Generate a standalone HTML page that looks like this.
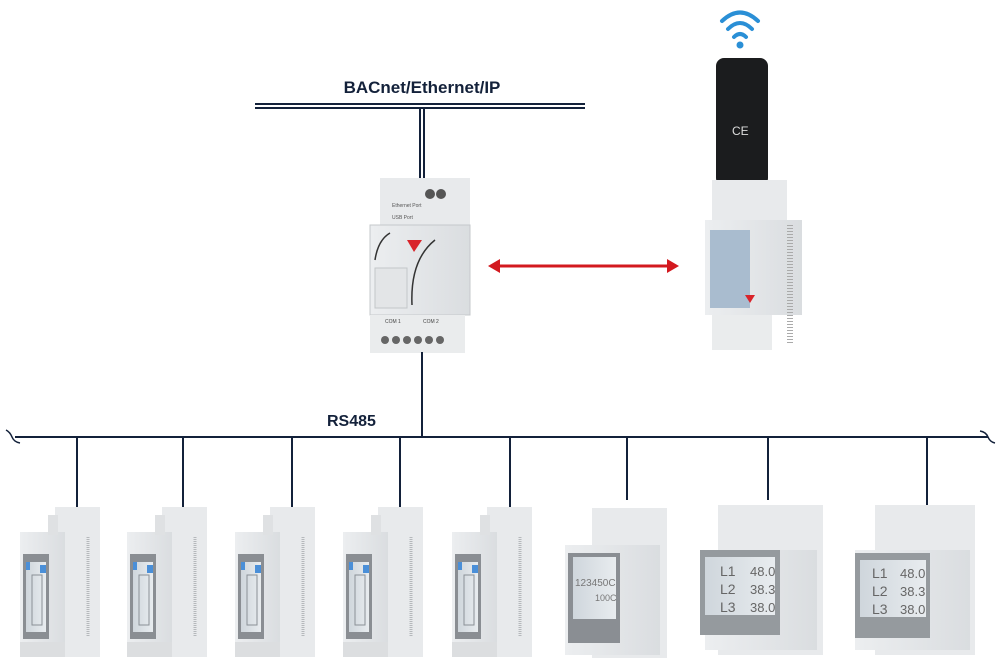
<!DOCTYPE html>
<html><head><meta charset="utf-8"><style>
html,body{margin:0;padding:0;background:#fff;}
svg{display:block;}
text{font-family:"Liberation Sans",sans-serif;}
</style></head><body>
<svg width="1000" height="662" viewBox="0 0 1000 662" xmlns="http://www.w3.org/2000/svg">
<defs>
<linearGradient id="g" x1="0" x2="1"><stop offset="0" stop-color="#eceef0"/><stop offset="1" stop-color="#dadde0"/></linearGradient>
<linearGradient id="lcd" x1="0" x2="1"><stop offset="0" stop-color="#cfd6dc"/><stop offset="1" stop-color="#e8ecef"/></linearGradient>
<g id="m1">
  <rect x="35" y="0" width="45" height="150" fill="#e8eaec"/>
  <rect x="0" y="25" width="45" height="125" fill="url(#g)"/>
  <rect x="28" y="8" width="10" height="20" fill="#dfe1e3"/>
  <rect x="3" y="47" width="26" height="85" fill="#8a8e93"/>
  <rect x="6" y="55" width="20" height="70" fill="url(#lcd)"/>
  <rect x="6" y="55" width="4" height="8" fill="#4a8fd8"/>
  <rect x="20" y="58" width="6" height="8" fill="#4a8fd8"/>
  <rect x="12" y="68" width="10" height="50" fill="none" stroke="#8a9096" stroke-width="1"/>
  <rect x="0" y="135" width="45" height="15" fill="#dcdee0"/>
  <line x1="68" y1="30" x2="68" y2="130" stroke="#b5b8bb" stroke-width="3" stroke-dasharray="1,1"/>
</g>
</defs>

<text x="422" y="93" text-anchor="middle" font-size="17" font-weight="bold" fill="#13213a">BACnet/Ethernet/IP</text>
<line x1="255" y1="104" x2="585" y2="104" stroke="#13213a" stroke-width="2"/>
<line x1="255" y1="108" x2="585" y2="108" stroke="#13213a" stroke-width="2"/>
<line x1="420" y1="108" x2="420" y2="180" stroke="#13213a" stroke-width="2"/>
<line x1="424" y1="108" x2="424" y2="180" stroke="#13213a" stroke-width="2"/>

<rect x="380" y="178" width="90" height="55" fill="#e8eaec"/>
<circle cx="430" cy="194" r="5" fill="#555"/><circle cx="441" cy="194" r="5" fill="#555"/>
<text x="392" y="207" font-size="5" fill="#555">Ethernet Port</text>
<text x="392" y="219" font-size="5" fill="#555">USB Port</text>
<rect x="370" y="225" width="100" height="90" fill="url(#g)"/>
<rect x="370" y="225" width="100" height="90" fill="none" stroke="#c5c8cb"/>
<path d="M375 260 Q378 240 390 233" fill="none" stroke="#333" stroke-width="1.5"/>
<path d="M412 305 Q410 260 435 240" fill="none" stroke="#333" stroke-width="1.5"/>
<polygon points="407,240 422,240 414,252" fill="#d9232a"/>
<rect x="375" y="268" width="32" height="40" fill="#e3e5e7" stroke="#c3c6c9"/>
<rect x="370" y="315" width="95" height="38" fill="#eaeced"/>
<text x="385" y="323" font-size="5" fill="#444">COM 1</text><text x="423" y="323" font-size="5" fill="#444">COM 2</text>
<g fill="#666"><circle cx="385" cy="340" r="4"/><circle cx="396" cy="340" r="4"/><circle cx="407" cy="340" r="4"/><circle cx="418" cy="340" r="4"/><circle cx="429" cy="340" r="4"/><circle cx="440" cy="340" r="4"/></g>
<line x1="422" y1="352" x2="422" y2="437" stroke="#13213a" stroke-width="2"/>

<line x1="496" y1="266" x2="670" y2="266" stroke="#d3191f" stroke-width="3"/>
<polygon points="488,266 500,259 500,273" fill="#d3191f"/>
<polygon points="679,266 667,259 667,273" fill="#d3191f"/>

<g fill="none" stroke="#2a8fd6" stroke-width="4" stroke-linecap="round">
<path d="M722 21 Q740 4 758 21"/><path d="M728 29 Q740 17 752 29"/><path d="M734 37 Q740 31 746 37"/>
</g>
<circle cx="740" cy="45" r="3.5" fill="#2a8fd6"/>
<rect x="716" y="58" width="52" height="128" rx="8" fill="#1b1c1e"/>
<text x="732" y="135" font-size="12" fill="#ddd">CE</text>
<rect x="712" y="180" width="75" height="45" fill="#e8eaec"/>
<rect x="705" y="220" width="97" height="95" fill="url(#g)"/>
<rect x="710" y="230" width="40" height="78" fill="#a9bccf"/>
<polygon points="745,295 755,295 750,303" fill="#d9232a"/>
<rect x="712" y="315" width="60" height="35" fill="#eaeced"/>
<line x1="790" y1="225" x2="790" y2="345" stroke="#aaa" stroke-width="6" stroke-dasharray="1,2"/>

<text x="327" y="426" font-size="16" font-weight="bold" fill="#13213a">RS485</text>
<line x1="15" y1="437" x2="988" y2="437" stroke="#13213a" stroke-width="2"/>
<path d="M6 430 Q10 432 12 437 Q14 442 20 443" fill="none" stroke="#13213a" stroke-width="1.5"/>
<path d="M980 431 Q986 432 988 437 Q990 442 995 443" fill="none" stroke="#13213a" stroke-width="1.5"/>
<g stroke="#13213a" stroke-width="2">
<line x1="77" y1="437" x2="77" y2="507"/><line x1="183" y1="437" x2="183" y2="507"/>
<line x1="292" y1="437" x2="292" y2="507"/><line x1="400" y1="437" x2="400" y2="507"/>
<line x1="510" y1="437" x2="510" y2="507"/><line x1="627" y1="437" x2="627" y2="500"/>
<line x1="768" y1="437" x2="768" y2="500"/><line x1="927" y1="437" x2="927" y2="505"/>
</g>

<use href="#m1" x="20" y="507"/>
<use href="#m1" x="127" y="507"/>
<use href="#m1" x="235" y="507"/>
<use href="#m1" x="343" y="507"/>
<use href="#m1" x="452" y="507"/>

<rect x="592" y="508" width="75" height="150" fill="#e8eaec"/>
<rect x="565" y="545" width="95" height="110" fill="url(#g)"/>
<rect x="568" y="553" width="52" height="90" fill="#8a8e93"/>
<rect x="573" y="557" width="43" height="62" fill="url(#lcd)"/>
<text x="575" y="586" font-size="10" fill="#777">123450C</text>
<text x="595" y="601" font-size="9" fill="#777">100C</text>

<g>
<rect x="718" y="505" width="105" height="150" fill="#e8eaec"/>
<rect x="705" y="550" width="112" height="100" fill="url(#g)"/>
<rect x="700" y="550" width="80" height="85" fill="#959a9e"/>
<rect x="705" y="557" width="70" height="58" fill="url(#lcd)"/>
<text x="720" y="576" font-size="14" fill="#666">L1</text><text x="750" y="576" font-size="13" fill="#666">48.0</text>
<text x="720" y="594" font-size="14" fill="#666">L2</text><text x="750" y="594" font-size="13" fill="#666">38.3</text>
<text x="720" y="612" font-size="14" fill="#666">L3</text><text x="750" y="612" font-size="13" fill="#666">38.0</text>
</g>
<g>
<rect x="875" y="505" width="100" height="150" fill="#e8eaec"/>
<rect x="855" y="550" width="115" height="100" fill="url(#g)"/>
<rect x="855" y="553" width="75" height="85" fill="#959a9e"/>
<rect x="860" y="560" width="66" height="57" fill="url(#lcd)"/>
<text x="872" y="578" font-size="14" fill="#666">L1</text><text x="900" y="578" font-size="13" fill="#666">48.0</text>
<text x="872" y="596" font-size="14" fill="#666">L2</text><text x="900" y="596" font-size="13" fill="#666">38.3</text>
<text x="872" y="614" font-size="14" fill="#666">L3</text><text x="900" y="614" font-size="13" fill="#666">38.0</text>
</g>
</svg>
</body></html>
